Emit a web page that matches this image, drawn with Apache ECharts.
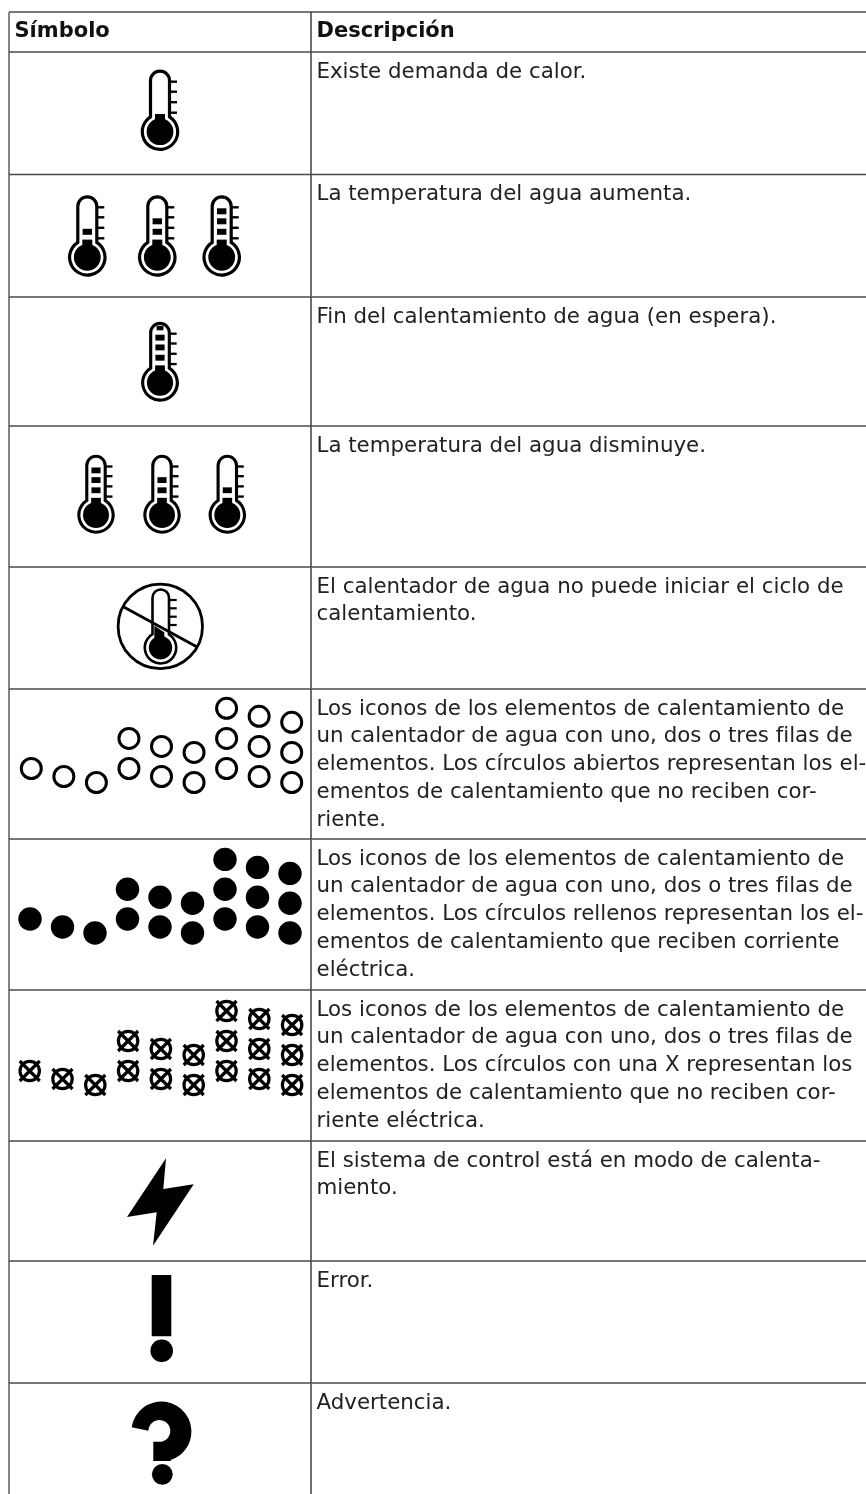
<!DOCTYPE html>
<html lang="es">
<head>
<meta charset="utf-8">
<title>Símbolos</title>
<style>html,body{margin:0;padding:0;background:#fff}#c{width:866px;height:1494px}</style>
<script src="https://cdn.jsdelivr.net/npm/echarts@6/dist/echarts.min.js"></script>
</head>
<body>
<div id="c"></div>
<script>
// ---- content ----
const headers = ['Símbolo', 'Descripción'];
const descriptions = [
  'Existe demanda de calor.',
  'La temperatura del agua aumenta.',
  'Fin del calentamiento de agua (en espera).',
  'La temperatura del agua disminuye.',
  'El calentador de agua no puede iniciar el ciclo de\ncalentamiento.',
  'Los iconos de los elementos de calentamiento de\nun calentador de agua con uno, dos o tres filas de\nelementos. Los círculos abiertos representan los el-\nementos de calentamiento que no reciben cor-\nriente.',
  'Los iconos de los elementos de calentamiento de\nun calentador de agua con uno, dos o tres filas de\nelementos. Los círculos rellenos representan los el-\nementos de calentamiento que reciben corriente\neléctrica.',
  'Los iconos de los elementos de calentamiento de\nun calentador de agua con uno, dos o tres filas de\nelementos. Los círculos con una X representan los\nelementos de calentamiento que no reciben cor-\nriente eléctrica.',
  'El sistema de control está en modo de calenta-\nmiento.',
  'Error.',
  'Advertencia.'
];
const elementRows = [1, 1, 1, 2, 2, 2, 3, 3, 3];
const thermometerLevels = [[0], [1, 2, 3], [4], [3, 2, 1]];

// ---- layout ----
const W = 866, H = 1494;
const tableLeft = 9, divider = 311, textX = 316.5;
const rowEdges = [12, 52, 174.5, 297, 426, 567, 689, 839, 990, 1141, 1261, 1383];
const lineStep = 27.85, textOffset = 20, fontPx = 21.35, headPx = 21;
const FONT = '"DejaVu Sans"';
const thermoRows = [
  {xs: [160], y: 131.7, s: 1},
  {xs: [87.3, 157.3, 221.7], y: 257.3, s: 1},
  {xs: [160], y: 382.7, s: 0.98},
  {xs: [96, 162, 227.3], y: 515, s: 0.97}
];
const elementGroups = [
  {x: 31.3, y: 768.5, dx: 32.55, dy: 30.1},
  {x: 30, y: 919, dx: 32.5, dy: 29.8},
  {x: 29.7, y: 1071, dx: 32.8, dy: 30}
];
const colDrop = [0, 8, 14];
const INK = '#000';

function elementPoints(g) {
  const out = [];
  elementRows.forEach((n, i) => {
    for (let k = 0; k < n; k++) out.push([g.x + i * g.dx, g.y + colDrop[i % 3] - k * g.dy]);
  });
  return out;
}

const p = (d, style) => ({type: 'path', shape: {pathData: d}, style: style});
const blk = {fill: INK, stroke: null};
const strokeOnly = w => ({fill: null, stroke: INK, lineWidth: w});
const ln = (x1, y1, x2, y2, w, c) => ({type: 'line', shape: {x1, y1, x2, y2}, style: {stroke: c || INK, lineWidth: w, fill: null}});

function thermometerChildren(levels) {
  const kids = [
    p('M-9.5 -14.9 L-9.5 -51 A9.5 9.5 0 0 1 9.5 -51 L9.5 -14.9 A17.7 17.7 0 1 1 -9.5 -14.9 Z', strokeOnly(3.2)),
    {type: 'circle', shape: {cx: 0, cy: 0, r: 13.4}, style: blk},
    {type: 'rect', shape: {x: -5, y: -17.7, width: 10, height: 12}, style: blk}
  ];
  [-50, -40, -29.5, -19].forEach(y => kids.push(ln(10.5, y, 17, y, 2.4)));
  const tops = [-28.5, -39, -49, -58];
  for (let i = 0; i < levels; i++) {
    kids.push({type: 'rect', shape: {x: i === 3 ? -3.5 : -4.7, y: tops[i], width: i === 3 ? 7 : 9.4, height: i === 3 ? 4.5 : 6}, style: blk});
  }
  return kids;
}

function prohibitedChildren() {
  const kids = [
    {type: 'circle', shape: {cx: -0.2, cy: -21.3, r: 42.2}, style: strokeOnly(2.8)},
    p('M-8 -13.5 L-8 -50 A8.25 8.25 0 0 1 8.5 -50 L8.5 -13.2 A15.7 15.7 0 1 1 -8 -13.5 Z', strokeOnly(2.6)),
    {type: 'circle', shape: {cx: 0, cy: 0, r: 11.7}, style: blk},
    p('M-6.2 -22 L3.8 -15.4 L3.8 -5 L-6.2 -5 Z', blk),
    ln(-37.2, -41, 36.2, -1, 2.8)
  ];
  [-47.7, -39.4, -31, -22.7].forEach(y => kids.push(ln(9.5, y, 16.2, y, 2.2)));
  return kids;
}

const glyphs = {
  prohibited: {at: [160.5, 647.7], children: prohibitedChildren},
  bolt: {at: [160, 1200], children: () => [p('M6 -41.7 L3.3 -11 L33.7 -15.7 L-7 45.7 L-3.3 12.3 L-33 17 Z', blk)]},
  exclamation: {at: [161.5, 1310], children: () => [
    {type: 'rect', shape: {x: -9.8, y: -35, width: 19.6, height: 61.3}, style: blk},
    {type: 'circle', shape: {cx: 0.2, cy: 40.7, r: 11.3}, style: blk}
  ]},
  question: {at: [161.5, 1431.5], children: () => [
    p('M-29.8 -4.2 A30 30 0 1 1 9.2 28.5 L9.2 29.5 L-8.2 29.5 L-8.2 10.3 L0 10.3 A11 11 0 1 0 -13.2 -0.8 Z', blk),
    {type: 'circle', shape: {cx: 0.8, cy: 42.8, r: 10.4}, style: blk}
  ]}
};
const glyphNames = Object.keys(glyphs);

const thermoData = [];
thermoRows.forEach((r, i) => r.xs.forEach((x, j) => thermoData.push([x, r.y, r.s, thermometerLevels[i][j]])));

// Text rows: one datum per row of the table
const rowData = descriptions.map((d, i) => [textX, rowEdges[i + 1]]);

const crossPath = 'path://M-9.7 0 A9.7 9.7 0 1 1 9.7 0 A9.7 9.7 0 1 1 -9.7 0 Z M-10 -10 L10 10 M10 -10 L-10 10';

const option = {
  animation: false,
  backgroundColor: '#fff',
  grid: {left: 0, right: 0, top: 0, bottom: 0, containLabel: false},
  xAxis: {type: 'value', min: 0, max: W, show: false},
  yAxis: {type: 'value', min: 0, max: H, inverse: true, show: false},
  tooltip: {show: false},
  series: [
    { // table rules
      type: 'custom', name: 'rules', coordinateSystem: 'cartesian2d', silent: true, clip: false,
      data: rowEdges.map(y => [0, y]),
      renderItem(params, api) {
        const y = api.coord([0, api.value(1)])[1];
        const kids = [ln(tableLeft, y, W, y, 1.6, '#4a4a4a')];
        if (params.dataIndex === 0) {
          kids.push(ln(tableLeft, rowEdges[0], tableLeft, H, 1.6, '#666'));
          kids.push(ln(divider, rowEdges[0], divider, H, 1.4, '#333'));
        }
        return {type: 'group', children: kids};
      }
    },
    { // header
      type: 'custom', name: 'header', coordinateSystem: 'cartesian2d', silent: true, clip: false,
      data: [[14.5, 32], [textX, 32]],
      renderItem(params, api) {
        const c = api.coord([api.value(0), api.value(1)]);
        return {type: 'text', style: {
          text: headers[params.dataIndex], x: c[0], y: c[1],
          font: 'bold ' + headPx + 'px ' + FONT, fill: '#111', verticalAlign: 'middle', align: 'left'}};
      }
    },
    { // descriptions
      type: 'custom', name: 'descriptions', coordinateSystem: 'cartesian2d', silent: true, clip: false,
      data: rowData,
      renderItem(params, api) {
        const c = api.coord([api.value(0), api.value(1)]);
        const lines = descriptions[params.dataIndex].split('\n');
        return {type: 'group', children: lines.map((t, i) => ({type: 'text', style: {
          text: t, x: c[0], y: c[1] + textOffset + i * lineStep,
          font: fontPx + 'px ' + FONT, fill: '#222', verticalAlign: 'middle', align: 'left'}}))};
      }
    },
    { // thermometers
      type: 'custom', name: 'thermometers', coordinateSystem: 'cartesian2d', silent: true, clip: false,
      data: thermoData,
      renderItem(params, api) {
        const c = api.coord([api.value(0), api.value(1)]);
        const s = api.value(2);
        return {type: 'group', x: c[0], y: c[1], scaleX: s, scaleY: s, children: thermometerChildren(api.value(3))};
      }
    },
    { // single glyph icons
      type: 'custom', name: 'glyphs', coordinateSystem: 'cartesian2d', silent: true, clip: false,
      data: glyphNames.map(n => glyphs[n].at),
      renderItem(params, api) {
        const c = api.coord([api.value(0), api.value(1)]);
        return {type: 'group', x: c[0], y: c[1], children: glyphs[glyphNames[params.dataIndex]].children()};
      }
    },
    { type: 'scatter', name: 'abiertos', silent: true, data: elementPoints(elementGroups[0]),
      symbol: 'circle', symbolSize: 20,
      itemStyle: {color: '#fff', borderColor: INK, borderWidth: 3, opacity: 1} },
    { type: 'scatter', name: 'rellenos', silent: true, data: elementPoints(elementGroups[1]),
      symbol: 'circle', symbolSize: 23.4,
      itemStyle: {color: INK, opacity: 1} },
    { type: 'scatter', name: 'con X', silent: true, data: elementPoints(elementGroups[2]),
      symbol: crossPath, symbolSize: 20,
      itemStyle: {color: 'rgba(255,255,255,0)', borderColor: INK, borderWidth: 3.2, opacity: 1} }
  ]
};
const chart = echarts.init(document.getElementById('c'), null, {renderer: 'canvas', width: W, height: H});
chart.setOption(option);
</script>
</body>
</html>
